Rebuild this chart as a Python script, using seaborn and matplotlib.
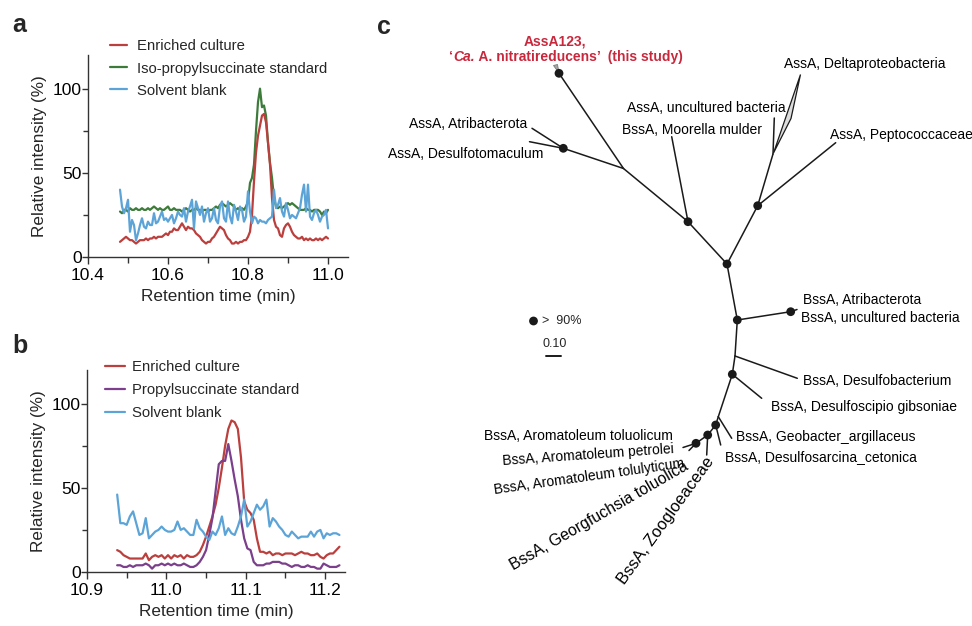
import numpy as np
import pandas as pd
import matplotlib
matplotlib.use("Agg")
import matplotlib.pyplot as plt
import seaborn as sns
from matplotlib import font_manager
from matplotlib.ticker import MultipleLocator, FormatStrFormatter
from matplotlib.offsetbox import TextArea, HPacker, AnnotationBbox
from matplotlib.patches import Polygon

# ---------------- panel a: GC-MS trace, one scan every 0.005 min from 10.48 min
rt_a_start, rt_a_step = 10.48, 0.005
enriched_a = [9, 10, 11, 12, 11, 10, 10, 9, 8, 9,
              10, 10, 10, 11, 10, 11, 11, 12, 11, 12,
              12, 12, 13, 14, 13, 15, 15, 17, 16, 16,
              18, 20, 18, 16, 18, 17, 17, 16, 14, 13,
              12, 10, 9, 8, 9, 9, 11, 12, 14, 16,
              18, 17, 16, 13, 11, 10, 8, 8, 9, 8,
              9, 9, 10, 10, 12, 15, 25, 45, 62, 72,
              78, 84, 85, 80, 68, 55, 35, 22, 18, 17,
              13, 12, 17, 19, 20, 18, 15, 13, 12, 11,
              11, 12, 10, 11, 10, 11, 10, 10, 11, 10,
              11, 10, 11, 12, 11]
iso_standard_a = [27, 26, 28, 28, 27, 29, 28, 28, 29, 28,
                  28, 29, 28, 28, 29, 28, 29, 30, 29, 28,
                  29, 28, 28, 29, 30, 28, 28, 29, 28, 28,
                  28, 27, 28, 29, 28, 27, 28, 28, 29, 28,
                  28, 27, 28, 28, 27, 28, 28, 29, 30, 29,
                  31, 32, 31, 30, 31, 32, 31, 30, 28, 29,
                  28, 29, 28, 30, 33, 44, 47, 55, 75, 92,
                  100, 89, 90, 84, 68, 56, 47, 35, 30, 29,
                  30, 29, 30, 31, 32, 31, 32, 31, 30, 29,
                  28, 28, 28, 29, 28, 28, 27, 28, 28, 28,
                  27, 25, 27, 26, 28]
blank_a = [40, 30, 26, 29, 34, 15, 22, 19, 10, 14,
           19, 23, 18, 17, 21, 19, 19, 26, 20, 21,
           24, 27, 22, 23, 21, 23, 25, 20, 23, 27,
           25, 24, 29, 21, 27, 30, 34, 17, 33, 29,
           25, 30, 21, 26, 29, 21, 23, 29, 22, 20,
           30, 33, 23, 21, 33, 24, 20, 31, 27, 22,
           30, 28, 21, 24, 39, 27, 20, 24, 23, 20,
           22, 21, 21, 20, 22, 23, 24, 40, 29, 31,
           35, 27, 24, 32, 28, 23, 25, 24, 23, 26,
           29, 37, 43, 27, 43, 24, 22, 26, 28, 25,
           21, 24, 25, 28, 17]

# ---------------- panel b: one scan every 0.004 min from 10.938 min
rt_b_start, rt_b_step = 10.938, 0.004
enriched_b = [13, 12, 10, 9, 8, 8, 8, 8, 8, 11,
              7, 9, 10, 9, 10, 8, 10, 8, 10, 9,
              10, 8, 10, 9, 9, 10, 12, 16, 21, 27,
              33, 40, 50, 62, 75, 85, 90, 89, 85, 68,
              42, 37, 35, 31, 20, 12, 12, 11, 12, 10,
              11, 11, 10, 11, 11, 11, 10, 11, 12, 11,
              11, 10, 10, 11, 9, 8, 10, 11, 11, 13,
              15]
propyl_standard_b = [4, 4, 3, 3, 4, 3, 4, 4, 4, 5,
                     4, 2, 4, 4, 5, 4, 5, 4, 5, 4,
                     4, 5, 4, 3, 3, 4, 6, 9, 13, 22,
                     32, 48, 64, 66, 66, 76, 66, 55, 45, 31,
                     20, 14, 13, 6, 4, 4, 4, 5, 5, 6,
                     6, 6, 5, 5, 4, 3, 4, 4, 3, 3,
                     4, 3, 3, 2, 2, 5, 4, 3, 3, 3,
                     4]
blank_b = [46, 29, 29, 28, 33, 36, 29, 22, 23, 32,
           20, 22, 24, 25, 27, 25, 24, 24, 25, 30,
           25, 26, 24, 22, 22, 31, 26, 24, 21, 19,
           24, 22, 26, 33, 22, 26, 23, 22, 27, 33,
           43, 27, 30, 35, 40, 37, 39, 43, 27, 32,
           30, 27, 25, 22, 21, 24, 22, 20, 21, 21,
           21, 24, 21, 24, 25, 20, 23, 22, 23, 23,
           22]

# ---------------- panel c: unrooted tree drawn in panel pixel units
node_x = [727, 688, 623.5, 559, 563.3, 532, 529.5, 671.7, 757.7, 835.7,
          773, 774.3, 737.3, 790.7, 735, 797.3, 732.3, 761.7, 718.3, 731.7,
          715.7, 720.7, 707.7, 706.7, 696, 683, 689, 797]
node_y = [264, 221.7, 168.5, 73.3, 148.3, 128.3, 141.7, 136.7, 205.7, 142.7,
          154, 118, 320, 311.7, 356, 378.3, 374.3, 398.3, 416.7, 438.3,
          425, 445, 435, 455, 443.3, 447.5, 450.5, 309.5]
node_parent = [-1, 0, 1, 2, 2, 4, 4, 1, 0, 8,
               8, 10, 0, 12, 12, 14, 14, 16, 16, 18,
               18, 20, 20, 22, 22, 24, 24, 13]
node_support = [1, 1, 0, 1, 1, 0, 0, 0, 1, 0,
                0, 0, 1, 1, 0, 0, 1, 0, 0, 0,
                1, 0, 1, 0, 1, 0, 0, 0]
leaf_labels = ["AssA, Atribacterota", "AssA, Desulfotomaculum", "BssA, Moorella mulder",
               "AssA, uncultured bacteria", "AssA, Deltaproteobacteria", "AssA, Peptococcaceae",
               "BssA, Atribacterota", "BssA, uncultured bacteria", "BssA, Desulfobacterium",
               "BssA, Desulfoscipio gibsoniae", "BssA, Geobacter_argillaceus",
               "BssA, Desulfosarcina_cetonica", "BssA, Aromatoleum toluolicum",
               "BssA, Aromatoleum petrolei", "BssA, Aromatoleum tolulyticum",
               "BssA, Georgfuchsia toluolica", "BssA, Zoogloeaceae"]
# label placement: x, y, ha, rotation, size factor
label_place = [(527, 123.5, "right", 0, 1), (543, 153.5, "right", 0, 1), (622, 130, "left", 0, 1),
               (627, 107.5, "left", 0, 1), (783.5, 64, "left", 0, 1), (830, 135, "left", 0, 1),
               (803, 299.5, "left", 0, 1), (801, 318.5, "left", 0, 1), (803, 381, "left", 0, 1),
               (771, 407, "left", 0, 1), (736, 437, "left", 0, 1), (725, 457.5, "left", 0, 1),
               (673, 435.5, "right", 0, 1), (674, 449, "right", 4, 1), (684, 463, "right", 8, 1),
               (687, 465, "right", 30, 1.14), (711, 459, "right", 54, 1.19)]

red_col, green_col, blue_col, purple_col = "#bb3f3d", "#3d7b3a", "#5ca4d7", "#7b3f8b"

sns.set_style("ticks")
plt.rcParams["font.family"] = ["Liberation Sans", "DejaVu Sans"]

available = {f.name for f in font_manager.fontManager.ttflist}
if "Liberation Sans Narrow" in available:
    tree_font, tree_fs, small_fs = ["Liberation Sans Narrow", "Liberation Sans"], 11.5, 10.3
else:
    tree_font, tree_fs, small_fs = ["Liberation Sans", "DejaVu Sans"], 10, 9

fig = plt.figure(figsize=(9.72, 6.26), dpi=100)
axc = fig.add_axes([370 / 972, 0, 602 / 972, 1])
ax_a = fig.add_axes([88 / 972, 1 - 257 / 626, 260 / 972, 202 / 626])
ax_b = fig.add_axes([87 / 972, 1 - 572 / 626, 258 / 972, 202 / 626])


def chromatogram(ax, start, step, series, draw_order, legend_order, xlim, xmajor, xminor,
                 leg_xy, handlelen, textpad, spacing):
    frames = []
    for name, vals, col in series:
        rt = np.round(start + step * np.arange(len(vals)), 3)
        frames.append(pd.DataFrame({"rt": rt, "intensity": vals, "sample": name}))
    df = pd.concat(frames, ignore_index=True)
    palette = {name: col for name, _, col in series}
    sns.lineplot(data=df, x="rt", y="intensity", hue="sample", hue_order=draw_order,
                 palette=palette, estimator=None, sort=False, lw=1.6, legend=False, ax=ax)
    handles = {name: line for name, line in zip(draw_order, ax.lines)}
    ax.legend([handles[n] for n in legend_order], legend_order, loc="upper left",
              bbox_to_anchor=(leg_xy[0] / 972, 1 - leg_xy[1] / 626),
              bbox_transform=fig.transFigure, frameon=False, fontsize=10.7,
              handlelength=handlelen, handletextpad=textpad, labelspacing=spacing,
              borderpad=0, borderaxespad=0)
    ax.set_xlim(*xlim)
    ax.set_ylim(0, 120)
    ax.xaxis.set_major_locator(MultipleLocator(xmajor))
    ax.xaxis.set_minor_locator(MultipleLocator(xminor))
    ax.xaxis.set_major_formatter(FormatStrFormatter("%.1f"))
    ax.yaxis.set_major_locator(MultipleLocator(50))
    ax.yaxis.set_minor_locator(MultipleLocator(25))
    ax.tick_params(which="both", width=1, colors="#333333", labelcolor="black", labelsize=12.5)
    ax.tick_params(axis="x", which="major", length=5, pad=3)
    ax.tick_params(axis="x", which="minor", length=4)
    ax.tick_params(axis="y", which="major", length=4, pad=0.5)
    ax.tick_params(axis="y", which="minor", length=3.5)
    ax.set_xlabel("Retention time (min)", fontsize=12.3, labelpad=4)
    ax.set_ylabel("Relative intensity (%)", fontsize=12.3, labelpad=4)
    sns.despine(ax=ax)
    for s in ("left", "bottom"):
        ax.spines[s].set_linewidth(1)
        ax.spines[s].set_color("#333333")


chromatogram(ax_a, rt_a_start, rt_a_step,
             [("Enriched culture", enriched_a, red_col),
              ("Iso-propylsuccinate standard", iso_standard_a, green_col),
              ("Solvent blank", blank_a, blue_col)],
             ["Iso-propylsuccinate standard", "Enriched culture", "Solvent blank"],
             ["Enriched culture", "Iso-propylsuccinate standard", "Solvent blank"],
             (10.4, 11.05), 0.2, 0.1, (110, 39.5), 1.15, 0.65, 0.54)

chromatogram(ax_b, rt_b_start, rt_b_step,
             [("Enriched culture", enriched_b, red_col),
              ("Propylsuccinate standard", propyl_standard_b, purple_col),
              ("Solvent blank", blank_b, blue_col)],
             ["Enriched culture", "Propylsuccinate standard", "Solvent blank"],
             ["Enriched culture", "Propylsuccinate standard", "Solvent blank"],
             (10.9, 11.225), 0.1, 0.05, (105, 360), 1.35, 0.47, 0.61)

# ---------------- tree
ink = "#1a1a1a"
for i, p in enumerate(node_parent):
    if p >= 0:
        axc.plot([node_x[p], node_x[i]], [node_y[p], node_y[i]], color=ink, lw=1.1,
                 solid_capstyle="round", zorder=1)
sup_x = [x for x, s in zip(node_x, node_support) if s]
sup_y = [y for y, s in zip(node_y, node_support) if s]
sns.scatterplot(x=sup_x, y=sup_y, color=ink, s=40, edgecolor="none", zorder=3,
                legend=False, ax=axc)

# collapsed clades
axc.add_patch(Polygon([(773.5, 153), (800.5, 74.5), (791, 118.5)], closed=True,
                      facecolor="#dcdcdc", edgecolor=ink, lw=0.9, zorder=2))
axc.add_patch(Polygon([(559, 73), (553.5, 65.5), (557.5, 64.5)], closed=True,
                      facecolor="#a8a8a8", edgecolor="#777777", lw=0.6, zorder=2))

for text, (x, y, ha, rot, fac) in zip(leaf_labels, label_place):
    axc.text(x, y, text, ha=ha, va="center", rotation=rot, rotation_mode="anchor",
             fontsize=tree_fs * fac, family=tree_font, color="black")

red_lab = "#c8283c"
tp = dict(color=red_lab, weight="bold", size=tree_fs, family=tree_font)
axc.text(555, 42, "AssA123,", ha="center", va="center", color=red_lab, fontweight="bold",
         fontsize=tree_fs, family=tree_font)
line2 = HPacker(children=[TextArea("\u2018", textprops=tp),
                          TextArea("Ca.", textprops=dict(tp, style="italic")),
                          TextArea(" A. nitratireducens\u2019  (this study)", textprops=tp)],
                align="baseline", pad=0, sep=0)
axc.add_artist(AnnotationBbox(line2, (566, 57), xycoords="data", frameon=False,
                              box_alignment=(0.5, 0.5), pad=0))

# support legend and scale bar
axc.scatter([533.5], [321], s=40, color=ink, edgecolor="none")
axc.text(542, 321, ">  90%", ha="left", va="center", fontsize=small_fs, family=tree_font)
axc.text(554.5, 344, "0.10", ha="center", va="center", fontsize=small_fs, family=tree_font)
axc.plot([545.5, 560.5], [356, 356], color=ink, lw=1.4)

axc.set_xlim(370, 972)
axc.set_ylim(626, 0)
axc.axis("off")

# panel letters
for lab, x, y in (("a", 12, 32), ("b", 12, 353), ("c", 377, 34)):
    fig.text(x / 972, 1 - y / 626, lab, fontsize=18, fontweight="bold", ha="left", va="baseline")

fig.savefig("out.png", dpi=100)
